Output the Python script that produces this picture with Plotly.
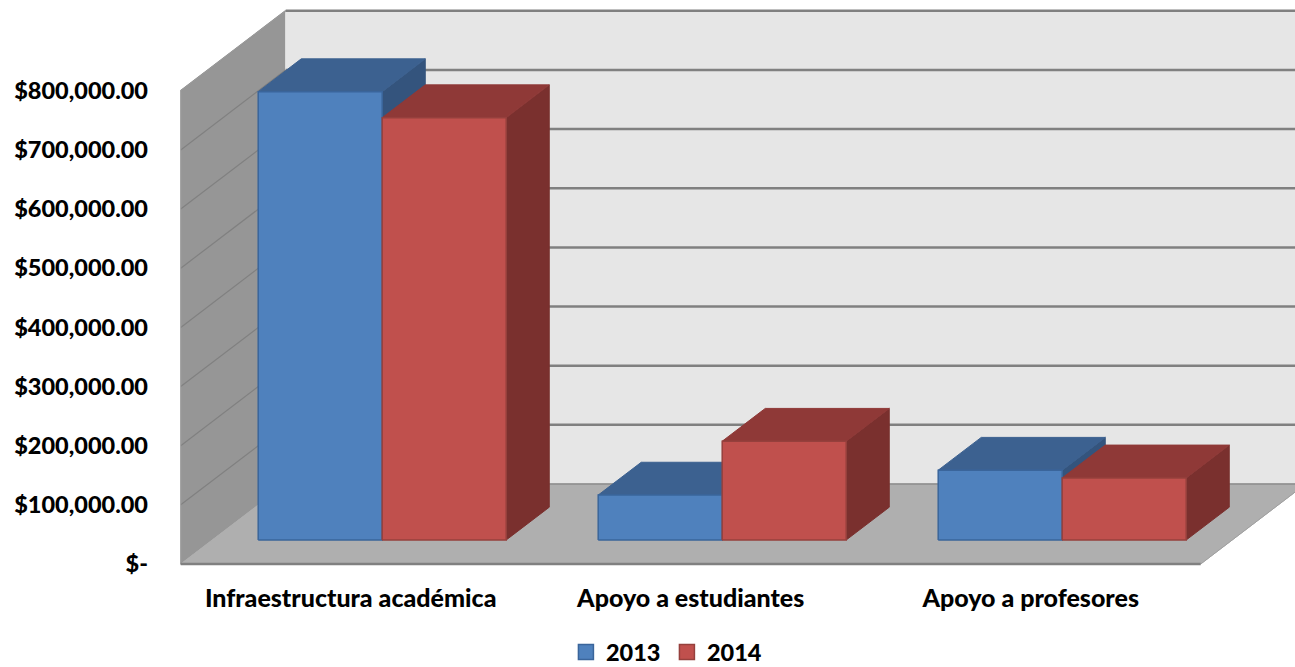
import plotly.graph_objects as go

categories = ["Infraestructura académica", "Apoyo a estudiantes", "Apoyo a profesores"]
series_names = ["2013", "2014"]
values_2013 = [758000, 76000, 118000]
values_2014 = [714000, 167000, 105000]
y_ticks = [0, 100000, 200000, 300000, 400000, 500000, 600000, 700000, 800000]
y_tick_labels = ["$-", "$100,000.00", "$200,000.00", "$300,000.00", "$400,000.00",
                 "$500,000.00", "$600,000.00", "$700,000.00", "$800,000.00"]

W, H = 1295, 667
PX_X = 340.0            # pixels per category
PX_Y = 59.15 / 100000   # pixels per dollar
X0_PX, Y0_PX = 350.7, 564.0
DEPTH_PX = (105.0, 80.0)
BAR_W = 124.0 / PX_X
D_FRONT, D_BACK = 0.30, 0.71
LEFT, RIGHT = -0.5, 2.5
TOP = 800000


def proj(x, y, d):
    """Oblique projection of (category, dollars, depth 0..1) to axis coordinates."""
    return x + d * DEPTH_PX[0] / PX_X, y + d * DEPTH_PX[1] / PX_Y


def poly(pts, fill, line, width=1.5):
    xs, ys = zip(*[proj(*p) for p in pts])
    return go.Scatter(x=list(xs) + [xs[0]], y=list(ys) + [ys[0]], mode="lines", fill="toself",
                      fillcolor=fill, line=dict(color=line, width=width),
                      showlegend=False, hoverinfo="skip")


def segment(a, b, color, width):
    xs, ys = zip(*[proj(*p) for p in (a, b)])
    return go.Scatter(x=list(xs), y=list(ys), mode="lines", line=dict(color=color, width=width),
                      showlegend=False, hoverinfo="skip")


fig = go.Figure()
# walls and floor
fig.add_trace(poly([(LEFT, 0, 0), (LEFT, TOP, 0), (LEFT, TOP, 1), (LEFT, 0, 1)], "#969696", "#969696", 1))
fig.add_trace(poly([(LEFT, 0, 1), (LEFT, TOP, 1), (RIGHT, TOP, 1), (RIGHT, 0, 1)], "#e6e6e6", "#e6e6e6", 1))
for t in y_ticks[1:]:
    fig.add_trace(segment((LEFT, t, 0), (LEFT, t, 1), "#808080", 1.2))
    fig.add_trace(segment((LEFT, t, 1), (RIGHT, t, 1), "#808080", 2.5))
fig.add_trace(poly([(LEFT, 0, 0), (LEFT, 0, 1), (RIGHT, 0, 1), (RIGHT, 0, 0)], "#afafaf", "#afafaf", 1))
fig.add_trace(segment((LEFT, TOP, 0), (LEFT, TOP, 1), "#9a9a9a", 1.5))
fig.add_trace(segment((LEFT, 0, 0), (LEFT, TOP, 0), "#a6a6a6", 1))
fig.add_trace(segment((LEFT, 0, 0), (RIGHT, 0, 0), "#808080", 2.5))
fig.add_trace(segment((RIGHT, 0, 0), (RIGHT, 0, 1), "#a0a0a0", 1))
fig.add_trace(segment((LEFT, 0, 1), (RIGHT, 0, 1), "#8c8c8c", 1.5))

styles = [
    dict(front="#4f81bd", edge="#3a659b", top="#3c6190", side="#34547d"),
    dict(front="#c0504d", edge="#96403d", top="#8f3937", side="#7a302e"),
]
for i in range(len(categories)):
    for s, vals in enumerate([values_2013, values_2014]):
        st = styles[s]
        x0 = i + (s - 1) * BAR_W
        x1 = x0 + BAR_W
        v = vals[i]
        fig.add_trace(poly([(x1, 0, D_FRONT), (x1, v, D_FRONT), (x1, v, D_BACK), (x1, 0, D_BACK)], st["side"], st["side"], 1))
        fig.add_trace(poly([(x0, v, D_FRONT), (x0, v, D_BACK), (x1, v, D_BACK), (x1, v, D_FRONT)], st["top"], st["top"], 1))
        fig.add_trace(poly([(x0, 0, D_FRONT), (x0, v, D_FRONT), (x1, v, D_FRONT), (x1, 0, D_FRONT)], st["front"], st["edge"], 1.5))

for name, st in zip(series_names, styles):
    fig.add_trace(go.Scatter(x=[None], y=[None], mode="markers", name=name,
                             marker=dict(symbol="square", size=15, color=st["front"],
                                         line=dict(color=st["edge"], width=1.5))))

x_range = [-X0_PX / PX_X, (W - X0_PX) / PX_X]
y_range = [-(H - Y0_PX) / PX_Y, Y0_PX / PX_Y]

fig.update_layout(
    width=W, height=H, margin=dict(l=0, r=0, t=0, b=0, pad=0, autoexpand=False),
    paper_bgcolor="white", plot_bgcolor="white",
    font=dict(family="Lato", size=22, color="black"),
    showlegend=True,
    legend=dict(orientation="h", x=0.515, xanchor="center", y=0.022, yanchor="middle",
                font=dict(family="Lato", size=23.5, color="black", weight=900),
                bgcolor="rgba(0,0,0,0)", itemwidth=30, traceorder="normal",
                entrywidth=56, entrywidthmode="pixels"),
    xaxis=dict(range=x_range, domain=[0, 1], showgrid=False, zeroline=False, showline=False,
               tickmode="array", tickvals=list(range(len(categories))), ticktext=categories,
               anchor="free", position=(H - Y0_PX) / H, ticks="outside", ticklen=12,
               tickcolor="rgba(0,0,0,0)", tickangle=0, automargin=False,
               tickfont=dict(family="Lato", size=25, color="black", weight=900)),
    yaxis=dict(range=y_range, domain=[0, 1], showgrid=False, zeroline=False, showline=False,
               tickmode="array", tickvals=y_ticks, ticktext=y_tick_labels,
               anchor="free", position=(X0_PX + LEFT * PX_X) / W, ticks="outside", ticklen=28,
               tickcolor="rgba(0,0,0,0)", automargin=False,
               tickfont=dict(family="Lato", size=23.5, color="black", weight=900)),
)

fig.write_html("out.html", post_script="document.body.style.margin='0';",
               config=dict(displayModeBar=False))
